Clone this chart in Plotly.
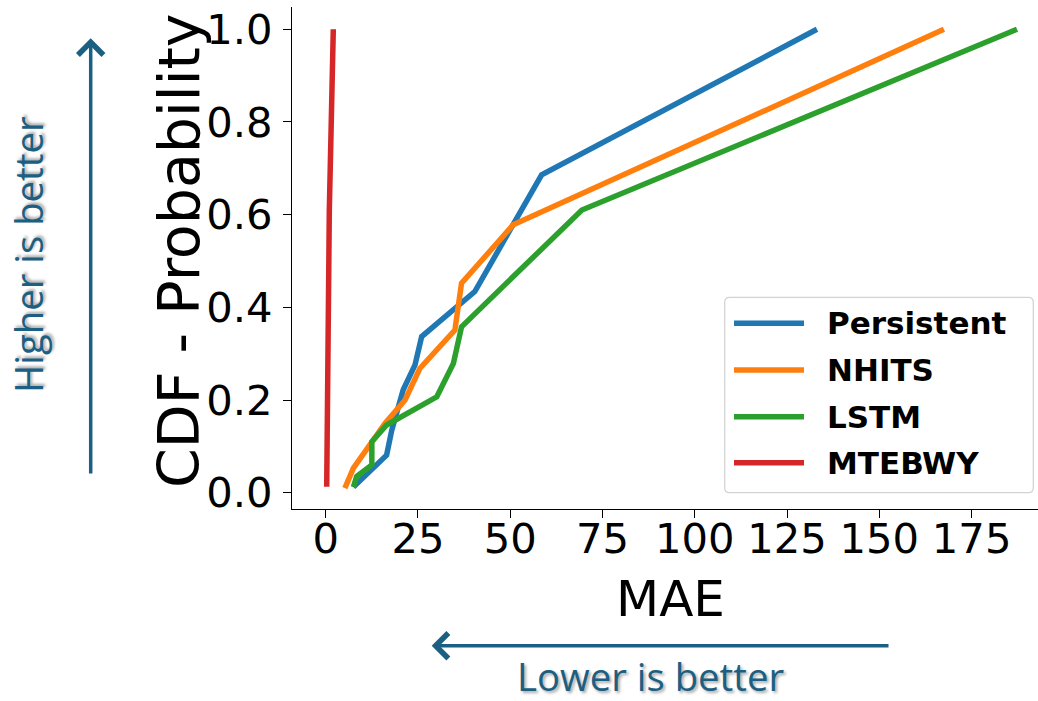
import plotly.graph_objects as go

# ---------------- data ----------------
series_names = ["Persistent", "NHITS", "LSTM", "MTEBWY"]
series_colors = ["#1f77b4", "#ff7f0e", "#2ca02c", "#d62728"]

persistent_mae = [7.5, 16.5, 17.9, 21.0, 24.2, 26.0, 40.4, 58.5, 133.1]
persistent_cdf = [0.012, 0.081, 0.135, 0.222, 0.276, 0.337, 0.434, 0.686, 1.0]

nhits_mae = [5.2, 7.5, 16.1, 21.5, 25.5, 35.0, 36.8, 50.8, 167.5]
nhits_cdf = [0.010, 0.053, 0.150, 0.200, 0.268, 0.351, 0.452, 0.578, 1.0]

lstm_mae = [7.5, 8.4, 12.5, 12.5, 16.5, 30.1, 34.6, 36.8, 69.4, 187.3]
lstm_cdf = [0.012, 0.035, 0.060, 0.110, 0.146, 0.207, 0.279, 0.358, 0.610, 1.0]

mtebwy_mae = [0.27, 0.98, 2.06]
mtebwy_cdf = [0.013, 0.61, 1.0]

x_ticks = [0, 25, 50, 75, 100, 125, 150, 175]
y_ticks = [0.0, 0.2, 0.4, 0.6, 0.8, 1.0]

series_x = [persistent_mae, nhits_mae, lstm_mae, mtebwy_mae]
series_y = [persistent_cdf, nhits_cdf, lstm_cdf, mtebwy_cdf]

# ---------------- layout geometry ----------------
W, H = 1038, 701
ML, MR, MT, MB = 292, 0, 7, 192
PW, PH = W - ML - MR, H - MT - MB


def px_x(p):
    return (p - ML) / PW


def px_y(p):
    return (H - MB - p) / PH


ACC = "#1B5F82"
TICK_FONT = dict(family="DejaVu Sans", size=41.7, color="black")
LINE_W = 5.5

fig = go.Figure()
for name, color, xs, ys in zip(series_names, series_colors, series_x, series_y):
    fig.add_trace(go.Scatter(x=xs, y=ys, mode="lines", name=name,
                             line=dict(color=color, width=LINE_W),
                             showlegend=False, hoverinfo="x+y+name"))

shapes = []
annotations = []

# ---- manual legend (lower right, rounded frame) ----
bx0, bx1, by0, by1, r = 724.7, 1033.3, 297.3, 492.7, 5.0


def P(x, y):
    return f"{px_x(x):.5f},{px_y(y):.5f}"


path = (f"M {P(bx0 + r, by0)} L {P(bx1 - r, by0)} Q {P(bx1, by0)} {P(bx1, by0 + r)} "
        f"L {P(bx1, by1 - r)} Q {P(bx1, by1)} {P(bx1 - r, by1)} "
        f"L {P(bx0 + r, by1)} Q {P(bx0, by1)} {P(bx0, by1 - r)} "
        f"L {P(bx0, by0 + r)} Q {P(bx0, by0)} {P(bx0 + r, by0)} Z")
shapes.append(dict(type="path", xref="paper", yref="paper", path=path,
                   line=dict(color="#d3d3d3", width=1.3),
                   fillcolor="rgba(255,255,255,0.85)", layer="above"))

row_y = [323.3, 370.0, 416.7, 462.7]
for name, color, ry in zip(series_names, series_colors, row_y):
    shapes.append(dict(type="line", xref="paper", yref="paper",
                       x0=px_x(734), x1=px_x(804), y0=px_y(ry), y1=px_y(ry),
                       line=dict(color=color, width=LINE_W), layer="above"))
    annotations.append(dict(xref="paper", yref="paper", x=px_x(825), y=px_y(ry),
                            text=name, showarrow=False, xanchor="left", yanchor="middle",
                            font=dict(family="DejaVu Sans", size=31, color="black", weight="bold")))

# ---- axis titles ----
annotations.append(dict(xref="paper", yref="paper", x=px_x(670), y=px_y(599.4),
                        text="MAE", showarrow=False, xanchor="center", yanchor="middle",
                        font=dict(family="DejaVu Sans", size=50, color="black")))
annotations.append(dict(xref="paper", yref="paper", x=px_x(179), y=px_y(251),
                        text="CDF - Probability", showarrow=False, textangle=-90,
                        xanchor="center", yanchor="middle",
                        font=dict(family="DejaVu Sans", size=57, color="black")))

# ---- "better" arrows and texts ----
shadow = "2px 2px 3px rgba(0,0,0,0.35)"
annotations.append(dict(xref="paper", yref="paper", x=px_x(90.7), y=px_y(38.3),
                        ax=0, ay=436.7, text="", showarrow=True, arrowhead=4,
                        arrowsize=1.4, arrowwidth=3.5, arrowcolor=ACC))
annotations.append(dict(xref="paper", yref="paper", x=px_x(431.7), y=px_y(645.7),
                        ax=458.3, ay=0, text="", showarrow=True, arrowhead=4,
                        arrowsize=1.4, arrowwidth=3.5, arrowcolor=ACC))
annotations.append(dict(xref="paper", yref="paper", x=px_x(28), y=px_y(255),
                        text="Higher is better", showarrow=False, textangle=-90,
                        xanchor="center", yanchor="middle",
                        font=dict(family="Open Sans", size=38.3, color=ACC, shadow=shadow)))
annotations.append(dict(xref="paper", yref="paper", x=px_x(650.8), y=px_y(675.5),
                        text="Lower is better", showarrow=False,
                        xanchor="center", yanchor="middle",
                        font=dict(family="Open Sans", size=38.3, color=ACC, shadow=shadow)))

# data ranges matching the reference pixel mapping
x0_px, x_scale = 325.7, 3.691   # px of MAE=0, px per MAE unit
y0_px, y_scale = 492.7, 463.4   # px of CDF=0, px per CDF unit
x_range = [(ML - x0_px) / x_scale, (W - MR - x0_px) / x_scale]
y_range = [(y0_px - (H - MB)) / y_scale, (y0_px - MT) / y_scale]

fig.update_layout(
    width=W, height=H,
    margin=dict(l=ML, r=MR, t=MT, b=MB, pad=0),
    plot_bgcolor="white", paper_bgcolor="white",
    showlegend=False,
    shapes=shapes, annotations=annotations,
    xaxis=dict(range=x_range, tickmode="array", tickvals=x_ticks,
               ticktext=[str(v) for v in x_ticks],
               showgrid=False, zeroline=False, showline=True, linecolor="black",
               linewidth=1.1, ticks="outside", ticklen=8, tickwidth=1.1,
               tickcolor="black", tickfont=TICK_FONT, ticklabelstandoff=-15),
    yaxis=dict(range=y_range, tickmode="array", tickvals=y_ticks,
               ticktext=[f"{v:.1f}" for v in y_ticks],
               showgrid=False, zeroline=False, showline=True, linecolor="black",
               linewidth=1.1, ticks="outside", ticklen=8, tickwidth=1.1,
               tickcolor="black", tickfont=TICK_FONT, ticklabelstandoff=2),
)

fig.write_html("out.html", config={"displayModeBar": False},
               post_script="document.body.style.margin='0';")
